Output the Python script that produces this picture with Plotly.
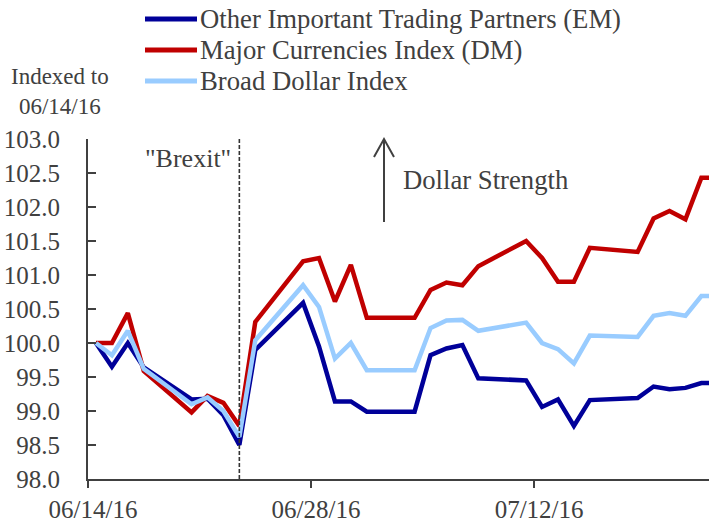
import pandas as pd
import plotly.graph_objects as go

# ---------------- data ----------------
dates = ["2016-06-14", "2016-06-15", "2016-06-16", "2016-06-17", "2016-06-20",
         "2016-06-21", "2016-06-22", "2016-06-23", "2016-06-24", "2016-06-27",
         "2016-06-28", "2016-06-29", "2016-06-30", "2016-07-01", "2016-07-04",
         "2016-07-05", "2016-07-06", "2016-07-07", "2016-07-08", "2016-07-11",
         "2016-07-12", "2016-07-13", "2016-07-14", "2016-07-15", "2016-07-18",
         "2016-07-19", "2016-07-20", "2016-07-21", "2016-07-22", "2016-07-25"]

em_values = [100.00, 99.65, 100.00, 99.64, 99.17, 99.18, 98.94, 98.50, 99.90, 100.59,
             99.95, 99.14, 99.14, 98.99, 98.99, 99.82, 99.92, 99.97, 99.48, 99.45,
             99.06, 99.17, 98.78, 99.16, 99.19, 99.36, 99.32, 99.34, 99.41, 99.41]

dm_values = [100.00, 100.00, 100.44, 99.59, 98.98, 99.22, 99.12, 98.78, 100.31, 101.20,
             101.25, 100.61, 101.15, 100.37, 100.37, 100.78, 100.89, 100.85, 101.13, 101.50,
             101.25, 100.90, 100.90, 101.40, 101.34, 101.83, 101.94, 101.82, 102.43, 102.43]

broad_values = [100.00, 99.82, 100.18, 99.62, 99.10, 99.20, 99.00, 98.62, 100.04, 100.85,
                100.53, 99.77, 100.00, 99.60, 99.60, 100.22, 100.33, 100.34, 100.18, 100.30,
                100.00, 99.91, 99.70, 100.11, 100.09, 100.40, 100.44, 100.40, 100.69, 100.69]

series_names = ["Other Important Trading Partners (EM)",
                "Major Currencies Index (DM)",
                "Broad Dollar Index"]
series_values = [em_values, dm_values, broad_values]
series_colors = ["#000099", "#C00000", "#99CCFF"]

tick_dates = ["2016-06-14", "2016-06-28", "2016-07-12"]
tick_labels = ["06/14/16", "06/28/16", "07/12/16"]
brexit_date = "2016-06-23"

y_range = [98.0, 103.0]
y_title = "Indexed to<br>06/14/16"

# ---------------- figure ----------------
W, H = 709, 525
ML, MR, MT, MB = 88, 0, 139, 46
PW, PH = W - ML - MR, H - MT - MB
TXT = "#404040"
FONT = "Liberation Serif"

def pxx(x):  # pixel -> paper x
    return (x - ML) / PW

def pxy(y):  # pixel -> paper y
    return (H - MB - y) / PH

# points centred in their day (Excel date-axis style)
x_vals = pd.to_datetime(dates) + pd.Timedelta(hours=12)

fig = go.Figure()
for name, vals, col in zip(series_names, series_values, series_colors):
    fig.add_trace(go.Scatter(x=x_vals, y=vals, mode="lines", name=name,
                             line=dict(color=col, width=4.5), showlegend=False))

shapes = []
annotations = []

# Brexit dashed line
bx = pd.Timestamp(brexit_date) + pd.Timedelta(hours=12)
shapes.append(dict(type="line", xref="x", yref="paper", x0=bx, x1=bx, y0=0, y1=1,
                   line=dict(color="#333333", width=1.6, dash="4px,2px")))
annotations.append(dict(xref="x", yref="paper", x=bx, y=pxy(158), xshift=-6,
                        xanchor="right", yanchor="middle", showarrow=False,
                        text='"Brexit"', font=dict(family=FONT, size=26, color=TXT)))

# Dollar strength arrow
ax = 384
shapes.append(dict(type="line", xref="paper", yref="paper", x0=pxx(ax), x1=pxx(ax),
                   y0=pxy(222), y1=pxy(139), line=dict(color=TXT, width=2)))
shapes.append(dict(type="path", xref="paper", yref="paper",
                   path=f"M {pxx(ax-10)},{pxy(157)} L {pxx(ax)},{pxy(139)} L {pxx(ax+10)},{pxy(157)}",
                   line=dict(color=TXT, width=2)))
annotations.append(dict(xref="paper", yref="paper", x=pxx(401), y=pxy(180),
                        xanchor="left", yanchor="middle", showarrow=False,
                        text="Dollar Strength", font=dict(family=FONT, size=26.7, color=TXT)))

# y title
annotations.append(dict(xref="paper", yref="paper", x=pxx(60), y=pxy(91),
                        xanchor="center", yanchor="middle", showarrow=False,
                        text=y_title, font=dict(family=FONT, size=23, color=TXT)))

# manual legend
for i, (name, col) in enumerate(zip(series_names, series_colors)):
    yy = 19 + 31 * i
    shapes.append(dict(type="line", xref="paper", yref="paper",
                       x0=pxx(145), x1=pxx(197), y0=pxy(yy), y1=pxy(yy),
                       line=dict(color=col, width=5)))
    annotations.append(dict(xref="paper", yref="paper", x=pxx(198), y=pxy(yy),
                            xanchor="left", yanchor="middle", showarrow=False,
                            text=name, font=dict(family=FONT, size=26.7, color=TXT)))

fig.update_layout(
    width=W, height=H,
    margin=dict(l=ML, r=MR, t=MT, b=MB, pad=0),
    paper_bgcolor="white", plot_bgcolor="white",
    font=dict(family=FONT, size=25, color=TXT),
    shapes=shapes, annotations=annotations,
    showlegend=False,
)
fig.update_xaxes(type="date",
                 range=[pd.Timestamp("2016-06-14"), pd.Timestamp("2016-07-22 23:30")],
                 tickvals=pd.to_datetime(tick_dates), ticktext=tick_labels,
                 ticks="outside", ticklen=7, tickwidth=2, tickcolor=TXT,
                 showline=True, linecolor=TXT, linewidth=2, showgrid=False, zeroline=False,
                 tickfont=dict(family=FONT, size=25, color=TXT), ticklabelshift=5)
fig.update_yaxes(range=y_range, dtick=0.5, tick0=98, tickformat=".1f",
                 ticks="inside", ticklen=8, tickwidth=2, tickcolor=TXT,
                 showline=True, linecolor=TXT, linewidth=2, showgrid=False, zeroline=False,
                 tickfont=dict(family=FONT, size=25, color=TXT), ticklabelstandoff=21)

fig.write_html("out.html", config={"displayModeBar": False},
               post_script="document.body.style.margin='0';document.body.style.overflow='hidden';")
